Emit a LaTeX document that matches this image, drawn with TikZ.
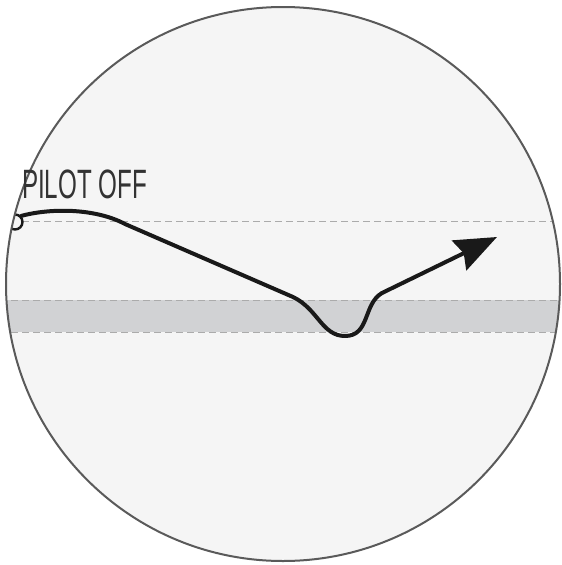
\documentclass[tikz,border=0pt]{standalone}
\usepackage{fontspec}
\setmainfont{Liberation Sans}
\usetikzlibrary{arrows.meta,calc}

\definecolor{dialfill}{HTML}{F5F5F5}
\definecolor{dialedge}{HTML}{5A5A5A}
\definecolor{bandfill}{HTML}{D1D2D4}
\definecolor{dashgray}{HTML}{ABABAB}

\tikzset{
  guide/.style={dashgray,line width=1pt,dash pattern=on 7pt off 4pt},
  flight/.style={black!90,line width=4pt,line cap=round,line join=round},
}

\begin{document}
\begin{tikzpicture}[x=1pt,y=-1pt,>=Stealth]
	\useasboundingbox (0,0) rectangle (562,565);
	
	\coordinate (c) at (283,284);
	\fill[dialfill] (c) circle[radius=277];
	
	\begin{scope}
		\clip (c) circle[radius=277];
		\fill[bandfill] (0,300) rectangle (562,332);
		\draw[guide] (0,300)--(562,300);
		\draw[guide] (0,332)--(562,332);
		\draw[guide] (0,221)--(562,221);
		\draw[black!90,line width=2.4pt,fill=dialfill] (15,222) circle[radius=7.5];
	\end{scope}
	
	\draw[dialedge,line width=2pt] (c) circle[radius=277];
	
	\node[anchor=south west,inner sep=0pt,text=black!80,xscale=0.59,font=\fontsize{41}{41}\selectfont] (label) at (22,199) {PILOT OFF};
	
	\coordinate (start) at (21,216);
	\coordinate (bend) at (125,224);
	\coordinate (dip) at (293,297);
	\coordinate (low) at (345,336);
	\coordinate (climb) at (382,293);
	\coordinate (tip) at (497,237);
	
	\draw[flight] (start) .. controls (50,208) and (95,208) .. (bend)
		-- (dip) .. controls (318,309) and (322,336) .. (low)
		.. controls (370,336) and (363,304) .. (climb);
	\draw[flight,-{Stealth[length=42pt,width=33pt,inset=5pt]}] (climb) -- (tip);
	
\end{tikzpicture}
\end{document}
